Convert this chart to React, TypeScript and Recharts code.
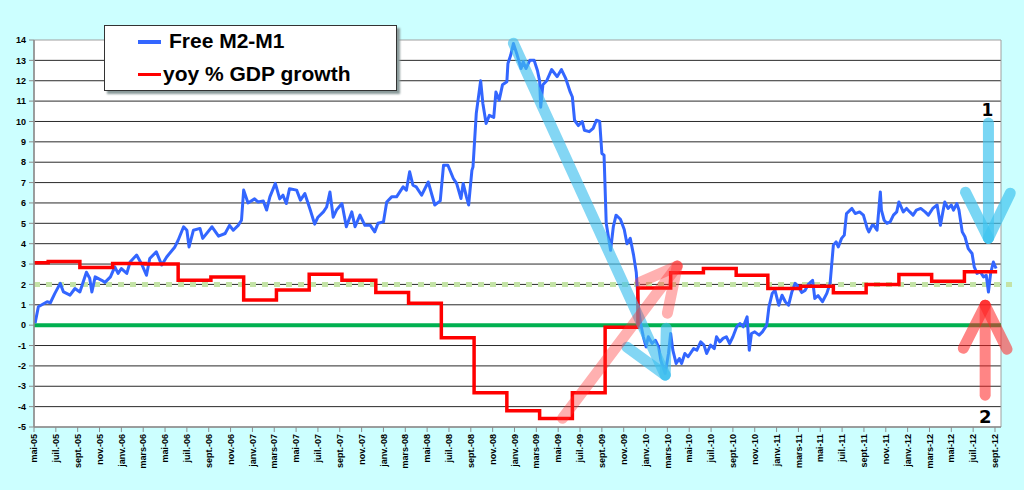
import {
  CartesianGrid,
  Legend,
  Line,
  LineChart,
  ReferenceArea,
  ReferenceDot,
  ReferenceLine,
  XAxis,
  YAxis,
} from "recharts";

// months counted from mai-05 (0) to sept.-12 (88)
const xTickLabels = [
  "mai-05", "juil.-05", "sept.-05", "nov.-05",
  "janv.-06", "mars-06", "mai-06", "juil.-06", "sept.-06", "nov.-06",
  "janv.-07", "mars-07", "mai-07", "juil.-07", "sept.-07", "nov.-07",
  "janv.-08", "mars-08", "mai-08", "juil.-08", "sept.-08", "nov.-08",
  "janv.-09", "mars-09", "mai-09", "juil.-09", "sept.-09", "nov.-09",
  "janv.-10", "mars-10", "mai-10", "juil.-10", "sept.-10", "nov.-10",
  "janv.-11", "mars-11", "mai-11", "juil.-11", "sept.-11", "nov.-11",
  "janv.-12", "mars-12", "mai-12", "juil.-12", "sept.-12",
];
const xTicks = xTickLabels.map((_, i) => i * 2);
const yTicks = [-5, -4, -3, -2, -1, 0, 1, 2, 3, 4, 5, 6, 7, 8, 9, 10, 11, 12, 13, 14];

// Free M2-M1 (weekly-ish readings)
const m2Months = [
  0.1, 0.4, 1.2, 1.5, 1.9, 2.4, 2.7, 3.3, 3.75, 4.2, 4.8, 5.1, 5.3, 5.6, 6.2, 6.5, 7.0, 7.4, 7.7, 8.0,
  8.5, 8.8, 9.4, 9.9, 10.3, 10.6, 11.2, 11.7, 12.15, 12.9, 13.2, 13.7, 14.0, 14.2, 14.6, 15.2, 15.45, 16.3, 16.9, 17.5,
  17.9, 18.25, 18.7, 19.0, 19.2, 19.6, 20.2, 20.5, 21.0, 21.3, 21.6, 22.1, 22.5, 22.8, 23.1, 23.4, 24.05, 24.4, 24.8, 25.3,
  25.7, 26.0, 26.5, 26.8, 27.1, 27.4, 27.7, 28.2, 28.6, 29.1, 29.4, 29.85, 30.3, 30.8, 31.2, 31.5, 32.0, 32.3, 32.75, 33.2,
  33.8, 34.1, 34.4, 34.7, 35.0, 35.5, 36.1, 36.7, 37.2, 37.5, 37.9, 38.4, 38.7, 39.1, 39.3, 39.6, 39.8, 40.1, 40.2, 40.5,
  40.9, 41.1, 41.4, 41.7, 42.1, 42.3, 42.6, 42.9, 43.3, 43.4, 43.65, 43.9, 44.2, 44.6, 44.8, 45.05, 45.4, 45.8, 46.1, 46.3,
  46.4, 46.6, 46.95, 47.4, 47.9, 48.3, 48.7, 49.1, 49.3, 49.5, 49.85, 50.2, 50.4, 50.85, 51.2, 51.5, 51.8, 52.0, 52.2, 52.4,
  52.8, 53.05, 53.3, 53.7, 54.05, 54.3, 54.6, 54.9, 55.15, 55.35, 55.55, 55.8, 56.05, 56.25, 56.6, 56.9, 57.2, 57.4, 57.8, 58.1,
  58.3, 58.5, 58.8, 59.1, 59.3, 59.6, 59.9, 60.4, 60.7, 61.05, 61.35, 61.6, 61.95, 62.3, 62.5, 62.8, 63.1, 63.4, 63.7, 64.0,
  64.35, 64.65, 64.95, 65.3, 65.5, 65.7, 66.0, 66.4, 66.7, 67.1, 67.3, 67.6, 67.85, 68.2, 68.5, 68.8, 69.1, 69.4, 69.7, 70.0,
  70.3, 70.6, 70.9, 71.3, 71.5, 71.8, 72.2, 72.6, 72.9, 73.2, 73.45, 73.65, 73.95, 74.2, 74.4, 74.9, 75.2, 75.6, 75.95, 76.3,
  76.45, 76.75, 76.9, 77.2, 77.5, 77.6, 77.85, 78.1, 78.4, 78.7, 79.0, 79.2, 79.6, 79.9, 80.2, 80.5, 80.8, 81.2, 81.6, 81.9,
  82.3, 82.7, 83.0, 83.2, 83.4, 83.7, 84.0, 84.2, 84.5, 84.7, 85.0, 85.25, 85.55, 85.9, 86.1, 86.35, 86.65, 86.95, 87.2, 87.4,
  87.6, 87.85, 88.1,
];
const m2Values = [
  0.1, 0.9, 1.15, 1.1, 1.55, 2.05, 1.63, 1.47, 1.8, 1.63, 2.6, 2.3, 1.63, 2.37, 2.2, 2.1, 2.37, 2.86, 2.54, 2.78,
  2.54, 3.1, 3.44, 2.95, 2.45, 3.27, 3.6, 2.95, 3.35, 3.84, 4.17, 4.83, 4.66, 3.84, 4.66, 4.75, 4.26, 4.83, 4.37, 4.5,
  4.9, 4.66, 4.9, 5.15, 6.63, 6.0, 6.2, 6.05, 6.1, 5.65, 6.3, 6.96, 6.2, 6.38, 5.97, 6.7, 6.63, 6.14, 6.46, 5.65,
  4.96, 5.3, 5.56, 5.8, 6.54, 5.3, 5.65, 5.97, 4.83, 5.56, 4.83, 5.4, 4.9, 4.9, 4.58, 5.0, 5.07, 6.05, 6.3, 6.3,
  6.79, 6.63, 7.53, 6.87, 6.79, 6.38, 7.03, 5.9, 6.1, 7.85, 7.85, 7.2, 6.96, 6.22, 6.96, 6.3, 5.9, 7.6, 7.77, 10.4,
  12.0, 10.9, 9.9, 10.3, 10.2, 11.45, 11.05, 11.8, 11.95, 12.85, 13.25, 13.83, 13.34, 12.6, 12.93, 12.6, 13.0, 13.0, 12.5, 12.0,
  10.7, 11.8, 12.0, 12.55, 12.2, 12.55, 12.1, 11.45, 11.2, 10.06, 9.8, 10.0, 9.57, 9.5, 9.66, 10.06, 10.0, 8.43, 8.35, 5.0,
  3.68, 4.83, 5.4, 5.2, 4.7, 4.0, 4.26, 3.45, 2.6, 0.9, 0.08, -0.57, -1.07, -0.57, -0.9, -0.74, -1.07, -1.72, -2.37, -1.39,
  -0.41, -1.23, -1.88, -1.64, -1.88, -1.39, -1.55, -1.15, -1.23, -0.82, -0.98, -1.39, -0.98, -1.15, -0.57, -0.82, -0.65, -0.57, -0.9, -0.57,
  -0.08, 0.08, -0.08, 0.41, -1.23, -0.41, -0.33, -0.49, -0.33, 0.0, 0.9, 1.56, 1.72, 0.98, 1.47, 1.15, 0.98, 1.63, 2.05, 1.88,
  1.6, 1.7, 2.0, 2.2, 1.31, 1.45, 1.15, 1.56, 2.05, 3.93, 4.09, 3.84, 4.26, 4.42, 5.48, 5.73, 5.48, 5.56, 5.4, 4.75,
  4.58, 4.9, 4.9, 4.66, 6.54, 5.65, 5.15, 5.0, 5.07, 5.4, 5.56, 6.05, 5.56, 5.73, 5.56, 5.4, 5.65, 5.73, 5.56, 5.4,
  5.73, 5.9, 4.9, 5.48, 6.05, 5.73, 5.9, 5.65, 5.97, 5.65, 4.58, 4.34, 3.76, 3.52, 2.86, 2.54, 2.62, 2.37, 2.45, 1.63,
  2.54, 3.1, 2.78,
];

// yoy % GDP growth, quarterly steps
const gdpMonths = [
  0, 1.3, 4.2, 7.2, 10.2, 13.2, 16.2, 19.2, 22.2, 25.2, 28.2, 31.3, 34.3, 37.3, 40.3, 43.3, 46.3, 49.3, 52.3, 55.3,
  58.3, 61.3, 64.3, 67.2, 70.2, 73.2, 76.2, 79.2, 82.2, 85.2, 88.2,
];
const gdpValues = [
  3.07, 3.12, 2.83, 3.03, 3.0, 2.2, 2.37, 1.23, 1.72, 2.5, 2.2, 1.6, 1.07, -0.62, -3.32, -4.2, -4.58, -3.32, -0.1, 1.83,
  2.57, 2.78, 2.45, 1.8, 1.91, 1.59, 2.0, 2.49, 2.16, 2.62, 2.62,
];

// annotation arrows, in chart units [month, value]
const blueArrowBig = [
  [[43.9, 13.84], [57.8, -2.45]],
  [[54.3, -1.08], [57.8, -2.45]],
  [[57.8, -2.45], [57.9, -0.15]],
];
const blueArrowOne = [
  [[87.4, 9.92], [87.4, 4.27]],
  [[85.3, 6.53], [87.4, 4.27]],
  [[87.4, 4.27], [89.4, 6.48]],
];
const redArrowBig = [
  [[48.4, -4.57], [58.9, 2.9]],
  [[55.5, 2.11], [58.9, 2.9]],
  [[58.9, 2.9], [58.0, 0.59]],
];
const redArrowTwo = [
  [[87.1, -3.44], [87.1, 0.98]],
  [[85.1, -1.13], [87.1, 0.98]],
  [[87.1, 0.98], [89.1, -1.18]],
];

const m2Data = m2Months.map((m, i) => ({ m, v: m2Values[i] }));
const gdpData = gdpMonths.map((m, i) => ({ m, v: gdpValues[i] }));

const FONT = "'Liberation Sans', Arial, sans-serif";

function MonthTick({ x, y, payload }: any) {
  return (
    <text
      transform={`translate(${x},${y}) rotate(-90)`}
      textAnchor="end"
      dy="0.35em"
      fontSize={9}
      fontWeight="bold"
      fontFamily={FONT}
      fill="#000"
    >
      {xTickLabels[Math.round(payload.value / 2)]}
    </text>
  );
}

function LegendBox() {
  const row = (color: string, text: string, top: number, textLeft: number, width: number) => (
    <div style={{ position: "absolute", left: 0, top, height: 24, width: "100%" }}>
      <div
        style={{
          position: "absolute",
          left: 33,
          top: 11,
          width: 23,
          height: width,
          background: color,
        }}
      />
      <div
        style={{
          position: "absolute",
          left: textLeft,
          top: 0,
          fontFamily: FONT,
          fontWeight: "bold",
          fontSize: 21,
          lineHeight: "24px",
          color: "#000",
          whiteSpace: "nowrap",
        }}
      >
        {text}
      </div>
    </div>
  );
  return (
    <div
      style={{
        position: "relative",
        width: 291,
        height: 64,
        background: "#fff",
        border: "1px solid #333",
        boxShadow: "3px 3px 2px #8a9a9a",
      }}
    >
      {row("#3366ff", "Free M2-M1", 3, 64, 4)}
      {row("#ff0000", "yoy % GDP growth", 36, 58, 3)}
    </div>
  );
}

function arrowLines(segs: number[][][], color: string, opacity: number, width: number, key: string) {
  return segs.map((s, i) => (
    <ReferenceLine
      key={`${key}-${i}`}
      segment={[
        { x: s[0][0], y: s[0][1] },
        { x: s[1][0], y: s[1][1] },
      ]}
      stroke={color}
      strokeOpacity={opacity}
      strokeWidth={width}
      strokeLinecap="round"
      ifOverflow="visible"
    />
  ));
}

export default function App() {
  return (
    <div
      style={{
        position: "absolute",
        left: 0,
        top: 0,
        width: 1024,
        height: 490,
        background: "#ccffff",
      }}
    >
      <LineChart width={1024} height={490} margin={{ top: 40, right: 23, bottom: 0, left: 0 }}>
        <CartesianGrid
          vertical={false}
          fill="#ffffff"
          stroke="#2a2a2a"
          horizontalValues={yTicks.filter((t) => t > -5 && t < 14)}
        />
        <ReferenceArea x1={0} x2={88.55} y1={-5} y2={14} fill="none" stroke="#a0a0a0" ifOverflow="visible" />
        <XAxis
          type="number"
          dataKey="m"
          domain={[0, 88.55]}
          allowDataOverflow
          ticks={xTicks}
          interval={0}
          tick={<MonthTick />}
          tickSize={5}
          axisLine={{ stroke: "#8c8c8c", strokeWidth: 1.5 }}
          tickLine={{ stroke: "#8c8c8c" }}
          height={63}
        />
        <YAxis
          type="number"
          domain={[-5, 14]}
          allowDataOverflow
          ticks={yTicks}
          interval={0}
          width={34}
          tickSize={5}
          tickMargin={3}
          tick={{ fill: "#000", fontSize: 9, fontWeight: "bold", fontFamily: FONT }}
          axisLine={{ stroke: "#8c8c8c", strokeWidth: 1.5 }}
          tickLine={{ stroke: "#8c8c8c" }}
        />
        <ReferenceLine
          segment={[
            { x: 0, y: 2 },
            { x: 89.6, y: 2 },
          ]}
          stroke="#c4e3a6"
          strokeWidth={5}
          strokeDasharray="6 6"
          ifOverflow="visible"
        />
        <ReferenceLine y={0} stroke="#00b050" strokeWidth={4} />
        <Line
          data={m2Data}
          dataKey="v"
          type="linear"
          stroke="#3366ff"
          strokeWidth={3}
          strokeLinejoin="round"
          dot={false}
          activeDot={false}
          isAnimationActive={false}
        />
        <Line
          data={gdpData}
          dataKey="v"
          type="stepAfter"
          stroke="#ff0000"
          strokeWidth={3.5}
          dot={false}
          activeDot={false}
          isAnimationActive={false}
        />
        {arrowLines(blueArrowBig, "#40c0ee", 0.65, 11, "bb")}
        {arrowLines(redArrowBig, "#ff3030", 0.38, 11, "rb")}
        {arrowLines(blueArrowOne, "#40c4f0", 0.7, 11, "b1")}
        {arrowLines(redArrowTwo, "#ff2020", 0.55, 11, "r2")}
        <ReferenceDot
          x={87.3}
          y={10.55}
          r={1}
          fill="none"
          stroke="none"
          ifOverflow="visible"
          label={{ value: "1", position: "center", fill: "#000", fontSize: 17, fontWeight: "bold", fontFamily: "'DejaVu Sans', sans-serif" }}
        />
        <ReferenceDot
          x={87.1}
          y={-4.47}
          r={1}
          fill="none"
          stroke="none"
          ifOverflow="visible"
          label={{ value: "2", position: "center", fill: "#000", fontSize: 18, fontWeight: "bold", fontFamily: "'DejaVu Sans', sans-serif" }}
        />
        <Legend
          layout="vertical"
          align="center"
          verticalAlign="middle"
          content={<LegendBox />}
          wrapperStyle={{ left: 104, top: 25, width: 294, height: 67 }}
        />
      </LineChart>
    </div>
  );
}
